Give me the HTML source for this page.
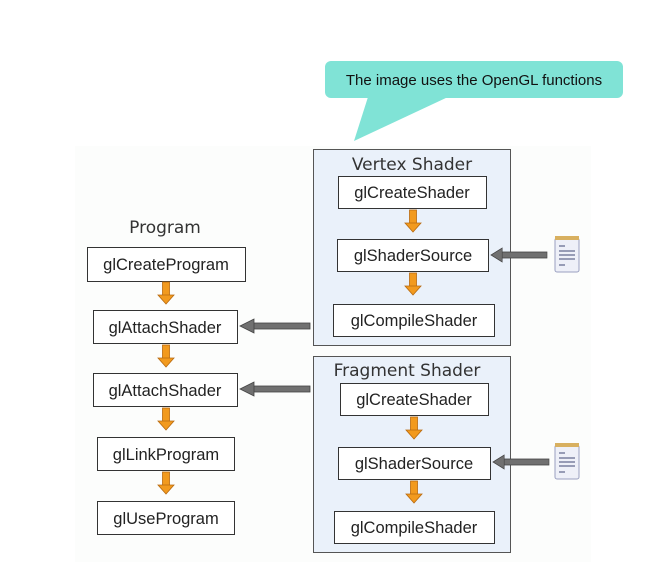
<!DOCTYPE html>
<html><head><style>
html,body{margin:0;padding:0;background:#fff;}
svg{display:block;font-family:"Liberation Sans",sans-serif;}
</style></head><body>
<svg width="646" height="578" viewBox="0 0 646 578" xmlns="http://www.w3.org/2000/svg">
<defs>
<g id="oa"><rect x="-3.5" y="0" width="7" height="14" fill="#f29a1e" stroke="#b86a10" stroke-width="0.8"/><polygon points="-8,13 8,13 0,22" fill="#f29a1e" stroke="#b86a10" stroke-width="0.8"/></g>
<g id="ga"><rect x="10" y="-3" width="60" height="6" fill="#707070" stroke="#444" stroke-width="0.8"/><polygon points="0,0 14,-7 14,7" fill="#707070" stroke="#444" stroke-width="0.8"/></g>
<g id="pad"><rect x="0" y="2" width="24" height="34" rx="2" fill="#eef0f8" stroke="#9aa0c0"/><rect x="0" y="0" width="24" height="4" fill="#d8b060"/><g stroke="#7a80a0" stroke-width="1.5"><line x1="4" y1="10" x2="10" y2="10"/><line x1="4" y1="15" x2="20" y2="15"/><line x1="4" y1="19" x2="20" y2="19"/><line x1="4" y1="23" x2="20" y2="23"/><line x1="4" y1="29" x2="10" y2="29"/></g></g>
</defs>
<rect x="75" y="146" width="516" height="416" fill="#fcfdfc"/>
<rect x="325" y="61" width="298" height="37" rx="6" fill="#80e3d6"/>
<polygon points="368,97 448,97 354,141" fill="#80e3d6"/>
<text x="474" y="85" font-size="15" text-anchor="middle" fill="#111">The image uses the OpenGL functions</text>
<rect x="313.5" y="149.5" width="197" height="196" fill="#eaf1fa" stroke="#555"/>
<rect x="313.5" y="356.5" width="197" height="196" fill="#eaf1fa" stroke="#555"/>
<text x="412" y="170" font-size="17" text-anchor="middle" fill="#333" font-family="DejaVu Sans, sans-serif">Vertex Shader</text>
<text x="407" y="376" font-size="17" text-anchor="middle" fill="#333" font-family="DejaVu Sans, sans-serif">Fragment Shader</text>
<g fill="#fff" stroke="#333" stroke-width="1">
<rect x="338.5" y="176.5" width="148" height="32"/>
<rect x="337.5" y="239.5" width="151" height="32"/>
<rect x="333.5" y="304.5" width="161" height="32"/>
<rect x="340.5" y="383.5" width="148" height="32"/>
<rect x="338.5" y="447.5" width="152" height="32"/>
<rect x="334.5" y="511.5" width="160" height="32"/>
<rect x="87.5" y="247.5" width="158" height="34"/>
<rect x="93.5" y="310.5" width="144" height="33"/>
<rect x="93.5" y="373.5" width="144" height="33"/>
<rect x="97.5" y="437.5" width="137" height="33"/>
<rect x="97.5" y="501.5" width="137" height="33"/>
</g>
<g font-size="16.5" text-anchor="middle" fill="#222">
<text x="412" y="198">glCreateShader</text>
<text x="413" y="261">glShaderSource</text>
<text x="414" y="326">glCompileShader</text>
<text x="414" y="405">glCreateShader</text>
<text x="414" y="469">glShaderSource</text>
<text x="414" y="533">glCompileShader</text>
<text x="166" y="270">glCreateProgram</text>
<text x="165" y="333">glAttachShader</text>
<text x="165" y="396">glAttachShader</text>
<text x="166" y="460">glLinkProgram</text>
<text x="166" y="524">glUseProgram</text>
</g>
<text x="165" y="233" font-size="17" text-anchor="middle" fill="#333" font-family="DejaVu Sans, sans-serif">Program</text>
<use href="#oa" x="166" y="282"/>
<use href="#oa" x="166" y="345"/>
<use href="#oa" x="166" y="408"/>
<use href="#oa" x="166" y="472"/>
<use href="#oa" x="413" y="210"/>
<use href="#oa" x="413" y="273"/>
<use href="#oa" x="414" y="417"/>
<use href="#oa" x="414" y="481"/>
<use href="#ga" x="240" y="326"/>
<use href="#ga" x="240" y="389"/>
<use href="#ga" transform="translate(491,255) scale(0.8,1)"/>
<use href="#ga" transform="translate(493,462) scale(0.8,1)"/>
<use href="#pad" x="555" y="236"/>
<use href="#pad" x="555" y="443"/>
</svg>
</body></html>
